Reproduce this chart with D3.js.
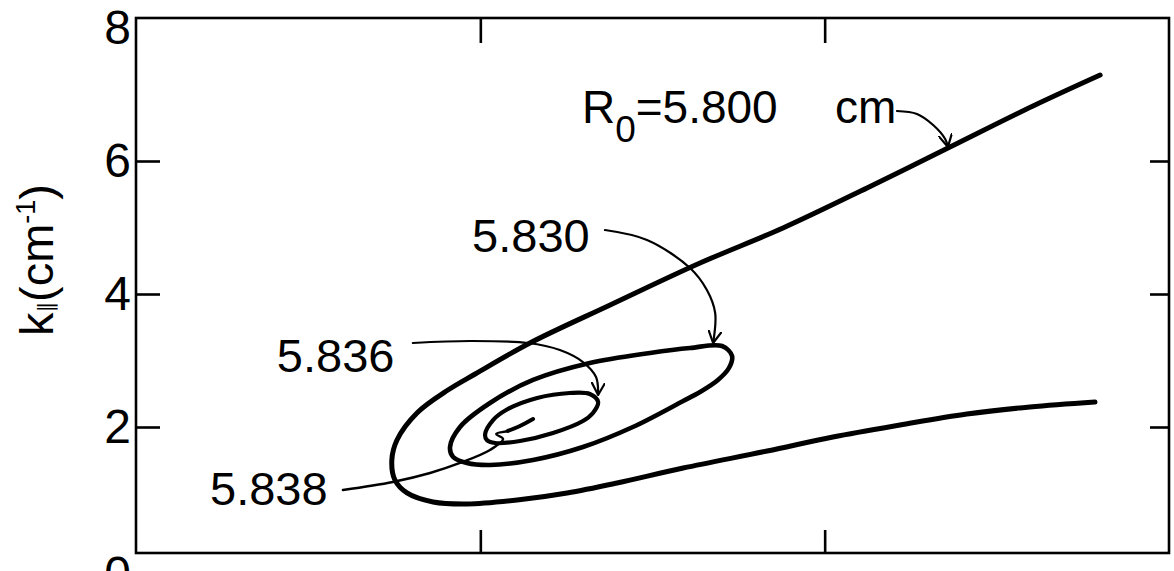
<!DOCTYPE html>
<html>
<head>
<meta charset="utf-8">
<script src="https://cdn.jsdelivr.net/npm/d3@7"></script>
<style>
  html, body { margin: 0; padding: 0; background: #fff; }
  svg { display: block; }
  text { font-family: "Liberation Sans", Arial, sans-serif; fill: #000; }
</style>
</head>
<body>
<svg id="chart" width="1174" height="571"></svg>
<script>
// ---- data: k_parallel (cm^-1) versus the horizontal coordinate, one array per R0 ----
// R0 = 5.800 cm : open C-shaped branch (upper end -> nose -> lower end)
const curve5800 = [
  [2.800, 7.293], [2.605, 6.827], [2.358, 6.195], [2.123, 5.594], [1.879, 4.992],
  [1.638, 4.466], [1.377, 3.835], [1.144, 3.263], [0.985, 2.797], [0.906, 2.556],
  [0.816, 2.211], [0.758, 1.805], [0.743, 1.504], [0.752, 1.203], [0.787, 1.008],
  [0.863, 0.872], [0.961, 0.842], [1.107, 0.902], [1.252, 1.008], [1.397, 1.158],
  [1.589, 1.383], [1.833, 1.639], [2.024, 1.850], [2.219, 2.030], [2.413, 2.195],
  [2.596, 2.301], [2.785, 2.376]
];
// R0 = 5.830 cm : closed loop
const curve5830 = [
  [0.912, 1.699], [0.941, 2.000], [1.028, 2.361], [1.153, 2.707], [1.318, 2.962],
  [1.493, 3.113], [1.609, 3.188], [1.702, 3.218], [1.731, 3.068], [1.722, 2.887],
  [1.690, 2.707], [1.638, 2.526], [1.589, 2.391], [1.443, 2.000], [1.298, 1.699],
  [1.153, 1.504], [1.028, 1.429], [0.961, 1.459], [0.921, 1.549]
];
// R0 = 5.836 cm : small closed loop
const curve5836 = [
  [1.014, 1.895], [1.037, 2.105], [1.075, 2.256], [1.165, 2.436], [1.260, 2.511],
  [1.318, 2.496], [1.342, 2.376], [1.327, 2.211], [1.298, 2.090], [1.211, 1.910],
  [1.115, 1.789], [1.043, 1.759], [1.019, 1.805]
];
// R0 = 5.838 cm : thin branch ending in a small hook
const curve5838 = [
  [0.601, 1.053], [0.746, 1.173], [0.854, 1.308], [0.941, 1.459], [1.028, 1.654],
  [1.066, 1.820], [1.046, 1.895], [1.080, 1.940], [1.115, 2.015], [1.153, 2.120]
];

// label texts and anchor points (data units)
const curveLabels = ["5.830", "5.836", "5.838"];
const curveLabelPos = [[0.976, 4.632], [0.409, 2.827], [0.215, 0.827]];
const r0LabelPos = [1.295, 6.571];
const r0UnitX = 2.030;

// leader arrows from labels to curves (data units)
const lead5800 = [[2.210, 6.752], [2.268, 6.707], [2.315, 6.541], [2.350, 6.331], [2.358, 6.211]];
const lead5830 = [[1.362, 4.962], [1.484, 4.812], [1.609, 4.391], [1.658, 4.060], [1.682, 3.714], [1.676, 3.263]];
const lead5836 = [[0.804, 3.263], [0.970, 3.293], [1.138, 3.263], [1.231, 3.158], [1.298, 2.977], [1.336, 2.752], [1.342, 2.481]];

// axes
const yTickValues = [0, 2, 4, 6, 8];
const yInnerTicks = [2, 4, 6];
const xInnerTicks = [1, 2];

// ---- layout ----
const svg = d3.select("#chart");
const box = { left: 136, right: 1169, top: 18, bottom: 553 };

const x = d3.scaleLinear().domain([0, 3]).range([box.left, box.right]);
const y = d3.scaleLinear().domain([0, 8]).range([560, 28]);

// plot frame
svg.append("rect")
  .attr("x", box.left).attr("y", box.top)
  .attr("width", box.right - box.left).attr("height", box.bottom - box.top)
  .attr("fill", "none").attr("stroke", "#000").attr("stroke-width", 2.6);

function styleAxis(g) {
  g.select(".domain").remove();
  g.selectAll(".tick line").attr("stroke", "#000").attr("stroke-width", 2.6);
}

// left: labels only (the zero sits just under the frame)
svg.append("g")
  .attr("transform", `translate(${box.left},0)`)
  .call(d3.axisLeft(y).tickValues(yTickValues).tickFormat(d3.format("d")).tickSize(0).tickPadding(5))
  .call(g => {
    g.select(".domain").remove();
    g.selectAll("text")
      .attr("font-size", 48)
      .attr("dy", d => d === 0 ? "0.62em" : "0.32em")
      .attr("font-family", "'Liberation Sans', Arial, sans-serif")
      .attr("fill", "#000");
  });
// left inward ticks
svg.append("g")
  .attr("transform", `translate(${box.left},0)`)
  .call(d3.axisLeft(y).tickValues(yInnerTicks).tickFormat("").tickSize(-24))
  .call(styleAxis);
// right inward ticks
svg.append("g")
  .attr("transform", `translate(${box.right},0)`)
  .call(d3.axisRight(y).tickValues(yInnerTicks).tickFormat("").tickSize(-19))
  .call(styleAxis);
// bottom and top inward ticks
svg.append("g")
  .attr("transform", `translate(0,${box.bottom})`)
  .call(d3.axisBottom(x).tickValues(xInnerTicks).tickFormat("").tickSize(-23))
  .call(styleAxis);
svg.append("g")
  .attr("transform", `translate(0,${box.top})`)
  .call(d3.axisTop(x).tickValues(xInnerTicks).tickFormat("").tickSize(-25))
  .call(styleAxis);

// y-axis title: k_parallel (cm^-1)
const yTitle = svg.append("text")
  .attr("transform", "translate(53,260) rotate(-90)")
  .attr("text-anchor", "middle")
  .attr("font-size", 47);
yTitle.append("tspan").text("k");
yTitle.append("tspan").attr("font-size", 21).attr("font-family", "'DejaVu Sans', sans-serif").text("\u2225");
yTitle.append("tspan").text("(cm");
yTitle.append("tspan").attr("font-size", 27).attr("dy", -18).text("-1");
yTitle.append("tspan").attr("dy", 18).text(")");

// ---- curves ----
const openLine = d3.line().x(d => x(d[0])).y(d => y(d[1])).curve(d3.curveCatmullRom.alpha(0.5));
const closedLine = d3.line().x(d => x(d[0])).y(d => y(d[1])).curve(d3.curveCatmullRomClosed.alpha(0.5));

const curves = svg.append("g").attr("fill", "none").attr("stroke", "#000")
  .attr("stroke-linecap", "round").attr("stroke-linejoin", "round");
curves.append("path").attr("d", openLine(curve5800)).attr("stroke-width", 5);
curves.append("path").attr("d", closedLine(curve5830)).attr("stroke-width", 4.6);
curves.append("path").attr("d", closedLine(curve5836)).attr("stroke-width", 4.2);
curves.append("path").attr("d", openLine(curve5838)).attr("stroke-width", 2.4);
curves.append("path").attr("d", openLine(curve5838.slice(-3))).attr("stroke-width", 4);

// ---- leaders with open arrowheads ----
svg.append("defs").append("marker")
  .attr("id", "head")
  .attr("viewBox", "0 0 13 14")
  .attr("refX", 12.5).attr("refY", 7)
  .attr("markerWidth", 13).attr("markerHeight", 14)
  .attr("markerUnits", "userSpaceOnUse")
  .attr("orient", "auto")
  .append("path")
  .attr("d", "M0.5,0.5 L12.5,7 L0.5,13.5")
  .attr("fill", "none").attr("stroke", "#000").attr("stroke-width", 2.2)
  .attr("stroke-linecap", "round").attr("stroke-linejoin", "round");

const leaders = svg.append("g").attr("fill", "none").attr("stroke", "#000")
  .attr("stroke-width", 2.2).attr("stroke-linecap", "round");
[lead5800, lead5830, lead5836].forEach(pts => {
  leaders.append("path").attr("d", openLine(pts)).attr("marker-end", "url(#head)");
});

// ---- curve labels ----
const r0 = svg.append("text")
  .attr("x", x(r0LabelPos[0])).attr("y", y(r0LabelPos[1]))
  .attr("font-size", 46);
r0.append("tspan").text("R");
r0.append("tspan").attr("font-size", 37).attr("dy", 19).text("0");
r0.append("tspan").attr("dy", -19).text("=5.800");
r0.append("tspan").attr("x", x(r0UnitX)).text("cm");

svg.selectAll("text.curve-label")
  .data(curveLabels)
  .join("text")
  .attr("class", "curve-label")
  .attr("x", (d, i) => x(curveLabelPos[i][0]))
  .attr("y", (d, i) => y(curveLabelPos[i][1]))
  .attr("font-size", 47)
  .text(d => d);
</script>
</body>
</html>
